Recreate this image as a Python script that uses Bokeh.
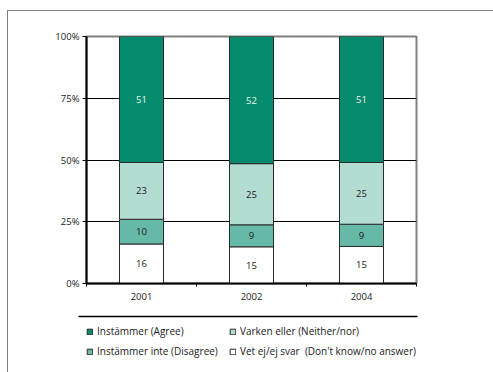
from bokeh.plotting import figure
from bokeh.layouts import column
from bokeh.models import FixedTicker, Legend, LegendItem, ColumnDataSource, Range1d
from bokeh.core.properties import value
from bokeh.embed import file_html
from bokeh.resources import INLINE

years = ["2001", "2002", "2004"]
agree = [51, 52, 51]
neither = [23, 25, 25]
disagree = [10, 9, 9]
dont_know = [16, 15, 15]
series_names = ["Instämmer (Agree)", "Varken eller (Neither/nor)",
                "Instämmer inte (Disagree)", "Vet ej/ej svar  (Don't know/no answer)"]
y_ticks = [0, 0.25, 0.5, 0.75, 1.0]
y_tick_labels = ["0%", "25%", "50%", "75%", "100%"]

FONT = "Open Sans"
C_AGREE = "#068A6E"
C_NEITHER = "#B3DDD3"
C_DISAGREE = "#66B9A7"
C_DK = "#FFFFFF"
EDGE = "#2a2a2a"

xs = [i + 0.5 for i in range(len(years))]
totals = [a + b + c + d for a, b, c, d in zip(agree, neither, disagree, dont_know)]

stack_order = [("dk", dont_know, C_DK), ("dis", disagree, C_DISAGREE),
               ("nei", neither, C_NEITHER), ("agr", agree, C_AGREE)]

# ---------------- chart ----------------
p = figure(width=485, height=300, output_backend="svg", toolbar_location=None,
           x_range=(0, 3), y_range=(0, 1),
           min_border_left=78, min_border_right=77, min_border_top=25, min_border_bottom=28)
p.outline_line_color = "#808080"
p.outline_line_width = 2

p.xgrid.visible = False
p.ygrid.ticker = FixedTicker(ticks=y_ticks)
p.ygrid.grid_line_color = "#000000"
p.ygrid.grid_line_width = 1

sources = {}
bottoms = [0.0] * len(years)
for key, vals, col in stack_order:
    fr = [v / t for v, t in zip(vals, totals)]
    tops = [b + f for b, f in zip(bottoms, fr)]
    src = ColumnDataSource(dict(x=xs, bottom=bottoms, top=tops,
                                mid=[(b + t) / 2 for b, t in zip(bottoms, tops)],
                                lab=[str(v) for v in vals]))
    sources[key] = src
    p.vbar(x="x", width=0.4, bottom="bottom", top="top", source=src,
           fill_color=col, line_color=EDGE, line_width=1)
    p.text(x="x", y="mid", text="lab", source=src, text_align="center",
           text_baseline="middle", text_font=value(FONT), text_font_size="9.5px",
           text_color="#E6F4EF" if key == "agr" else "#1a1a1a")
    bottoms = tops

p.yaxis.ticker = FixedTicker(ticks=y_ticks)
p.yaxis.major_label_overrides = {t: l for t, l in zip(y_ticks, y_tick_labels)}
p.yaxis.major_tick_out = 4
p.yaxis.major_tick_in = 0
p.yaxis.minor_tick_line_color = None
p.yaxis.axis_line_color = "#000000"
p.yaxis.axis_line_width = 2
p.yaxis.major_tick_line_color = "#000000"
p.yaxis.major_label_text_font = FONT
p.yaxis.major_label_text_font_size = "9.5px"
p.yaxis.major_label_text_color = "#1a1a1a"
p.yaxis.major_label_standoff = 3

p.xaxis.ticker = FixedTicker(ticks=xs, minor_ticks=[0, 1, 2, 3])
p.xaxis.major_label_overrides = {x: y for x, y in zip(xs, years)}
p.xaxis.major_tick_line_color = None
p.xaxis.minor_tick_out = 3
p.xaxis.minor_tick_in = 0
p.xaxis.minor_tick_line_color = "#000000"
p.xaxis.axis_line_color = "#000000"
p.xaxis.axis_line_width = 2
p.xaxis.major_label_text_font = FONT
p.xaxis.major_label_text_font_size = "9.5px"
p.xaxis.major_label_text_color = "#1a1a1a"
p.xaxis.major_label_standoff = 3

# ---------------- legend strip (screen-like data units) ----------------
p2 = figure(width=485, height=61, output_backend="svg", toolbar_location=None,
            x_range=Range1d(0, 485), y_range=Range1d(100, 161),
            x_axis_location=None, y_axis_location=None,
            min_border_left=0, min_border_right=0, min_border_top=0, min_border_bottom=0)
for fig in (p, p2):
    try:
        fig.frame_align = False
    except Exception:
        pass
p2.grid.visible = False
p2.outline_line_color = None
# divider line above the legend
p2.segment(x0=[70], y0=[156], x1=[409], y1=[156], line_color="#000000", line_width=1.5)

# legend renderers reuse the bar sources; they lie outside this strip's range
leg_r = {}
for key, col in [("agr", C_AGREE), ("nei", C_NEITHER), ("dis", C_DISAGREE), ("dk", C_DK)]:
    leg_r[key] = p2.vbar(x="x", width=0.4, bottom="bottom", top="top", source=sources[key],
                         fill_color=col, line_color=EDGE, line_width=1)

items = [LegendItem(label=series_names[0], renderers=[leg_r["agr"]]),
         LegendItem(label=series_names[2], renderers=[leg_r["dis"]]),
         LegendItem(label=series_names[1], renderers=[leg_r["nei"]]),
         LegendItem(label=series_names[3], renderers=[leg_r["dk"]])]
legend = Legend(items=items, ncols=2, location=(78, 14), orientation="vertical",
                label_text_font=FONT, label_text_font_size="10px", label_text_color="#1a1a1a",
                glyph_width=7, glyph_height=7, label_height=7, label_width=126,
                label_standoff=4, spacing=6, padding=0, margin=0, border_line_color=None,
                background_fill_alpha=0)
p2.add_layout(legend, "center")

lay = column(p, p2, spacing=0)
lay.styles = {"border-top": "1px solid #808080", "border-left": "1px solid #808080",
              "margin-left": "7px", "margin-top": "10px"}

open("out.html", "w").write(file_html(lay, INLINE))
